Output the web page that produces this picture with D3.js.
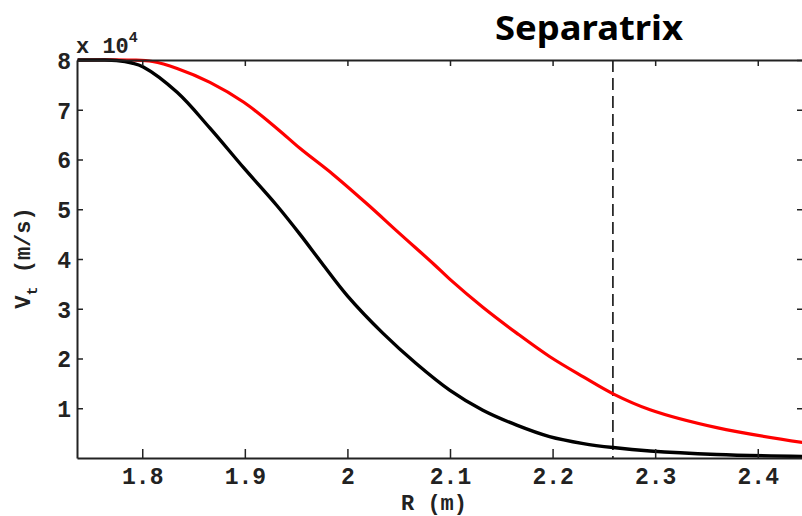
<html>
<head>
<title>Vt profile</title>
<script src="https://cdnjs.cloudflare.com/ajax/libs/d3/7.8.5/d3.min.js"></script>
<style>
body { margin: 0; background: #fff; }
text { font-family: "Liberation Mono", "DejaVu Sans Mono", monospace; font-weight: bold; fill: #222; }
</style>
</head>
<body>
<svg id="chart" width="802" height="516"></svg>
<script>
var blackR = [1.737, 1.760, 1.775, 1.790, 1.801, 1.834, 1.866, 1.899, 1.931, 1.954, 1.975, 2.000, 2.035, 2.067, 2.100, 2.132, 2.165, 2.197, 2.230, 2.259, 2.295, 2.360, 2.444];
var blackV = [8.0, 8.0, 7.99, 7.94, 7.86, 7.35, 6.63, 5.83, 5.08, 4.49, 3.92, 3.26, 2.50, 1.90, 1.36, 0.96, 0.66, 0.43, 0.29, 0.21, 0.14, 0.07, 0.03];
var redR = [1.737, 1.790, 1.810, 1.834, 1.866, 1.899, 1.931, 1.954, 1.986, 2.019, 2.051, 2.084, 2.100, 2.132, 2.165, 2.197, 2.230, 2.259, 2.295, 2.360, 2.444];
var redV = [8.0, 8.0, 7.97, 7.83, 7.55, 7.15, 6.63, 6.22, 5.70, 5.11, 4.51, 3.90, 3.59, 3.03, 2.51, 2.04, 1.63, 1.29, 0.97, 0.61, 0.31];
var separatrixR = 2.2588;
var xTicks = [1.8, 1.9, 2.0, 2.1, 2.2, 2.3, 2.4];
var yTicks = [1, 2, 3, 4, 5, 6, 7, 8];

(function () {
    var pLeft = 77, pRight = 803, pTop = 60, pBottom = 458;
    var svg = d3.select('#chart');

    var x = d3.scaleLinear().domain([1.7364, 2.4441]).range([pLeft, pRight]);
    var y = d3.scaleLinear().domain([0, 8]).range([pBottom, pTop]);

    svg.append('clipPath').attr('id', 'clip')
        .append('rect').attr('x', pLeft).attr('y', pTop - 2).attr('width', pRight - pLeft).attr('height', pBottom - pTop + 2);

    var line = d3.line()
        .x(function (d) { return x(d[0]); })
        .y(function (d) { return y(d[1]); })
        .curve(d3.curveCatmullRom.alpha(0.5));

    var plot = svg.append('g').attr('clip-path', 'url(#clip)');

    // separatrix
    plot.append('line')
        .attr('x1', x(separatrixR)).attr('x2', x(separatrixR))
        .attr('y1', pTop).attr('y2', pBottom)
        .attr('stroke', '#111').attr('stroke-width', 1.6)
        .attr('stroke-dasharray', '12,6');

    plot.append('path')
        .datum(d3.zip(redR, redV))
        .attr('d', line)
        .attr('fill', 'none').attr('stroke', '#ff0000').attr('stroke-width', 3.2);

    plot.append('path')
        .datum(d3.zip(blackR, blackV))
        .attr('d', line)
        .attr('fill', 'none').attr('stroke', '#000').attr('stroke-width', 3.4);

    // axes, matlab style with inward ticks
    var axisColor = '#222';
    var bottomAxis = svg.append('g').attr('transform', 'translate(0,' + pBottom + ')')
        .call(d3.axisBottom(x).tickValues(xTicks).tickSizeInner(-9).tickSizeOuter(0).tickPadding(10)
            .tickFormat(function (d) { return d === 2 ? '2' : d3.format('.1f')(d); }));
    var topAxis = svg.append('g').attr('transform', 'translate(0,' + pTop + ')')
        .call(d3.axisTop(x).tickValues(xTicks).tickSizeInner(-6).tickSizeOuter(0).tickFormat(''));
    var leftAxis = svg.append('g').attr('transform', 'translate(' + pLeft + ',0)')
        .call(d3.axisLeft(y).tickValues(yTicks).tickSizeInner(-6).tickSizeOuter(0).tickPadding(6)
            .tickFormat(d3.format('d')));
    var rightAxis = svg.append('g').attr('transform', 'translate(' + pRight + ',0)')
        .call(d3.axisRight(y).tickValues(yTicks).tickSizeInner(-6).tickSizeOuter(0).tickFormat(''));

    [bottomAxis, topAxis, leftAxis, rightAxis].forEach(function (g) {
        g.select('.domain').attr('stroke', axisColor).attr('stroke-width', 2);
        g.selectAll('.tick line').attr('stroke', axisColor).attr('stroke-width', 1.5);
        g.selectAll('.tick text').style('font-size', '23px').attr('fill', '#222');
    });
    leftAxis.selectAll('.tick text').attr('dy', '0.36em');

    // multiplier label
    var mult = svg.append('text').attr('x', 76).attr('y', 53).style('font-size', '22px');
    mult.append('tspan').text('x 10');
    mult.append('tspan').attr('dy', -11).style('font-size', '15px').text('4');

    // axis titles
    svg.append('text')
        .attr('x', 434).attr('y', 510)
        .attr('text-anchor', 'middle')
        .style('font-size', '22px')
        .text('R (m)');

    var yl = svg.append('text')
        .attr('transform', 'translate(30,258) rotate(-90)')
        .attr('text-anchor', 'middle')
        .style('font-size', '22px');
    yl.append('tspan').text('V');
    yl.append('tspan').attr('dy', 7).style('font-size', '15px').text('t');
    yl.append('tspan').attr('dy', -7).text(' (m/s)');

    svg.append('text')
        .attr('x', 495).attr('y', 40)
        .attr('textLength', 188).attr('lengthAdjust', 'spacingAndGlyphs')
        .style('font-family', '"Noto Sans", "Open Sans", sans-serif')
        .style('font-size', '34px')
        .style('fill', '#000')
        .text('Separatrix');
})();
</script>
</body>
</html>
